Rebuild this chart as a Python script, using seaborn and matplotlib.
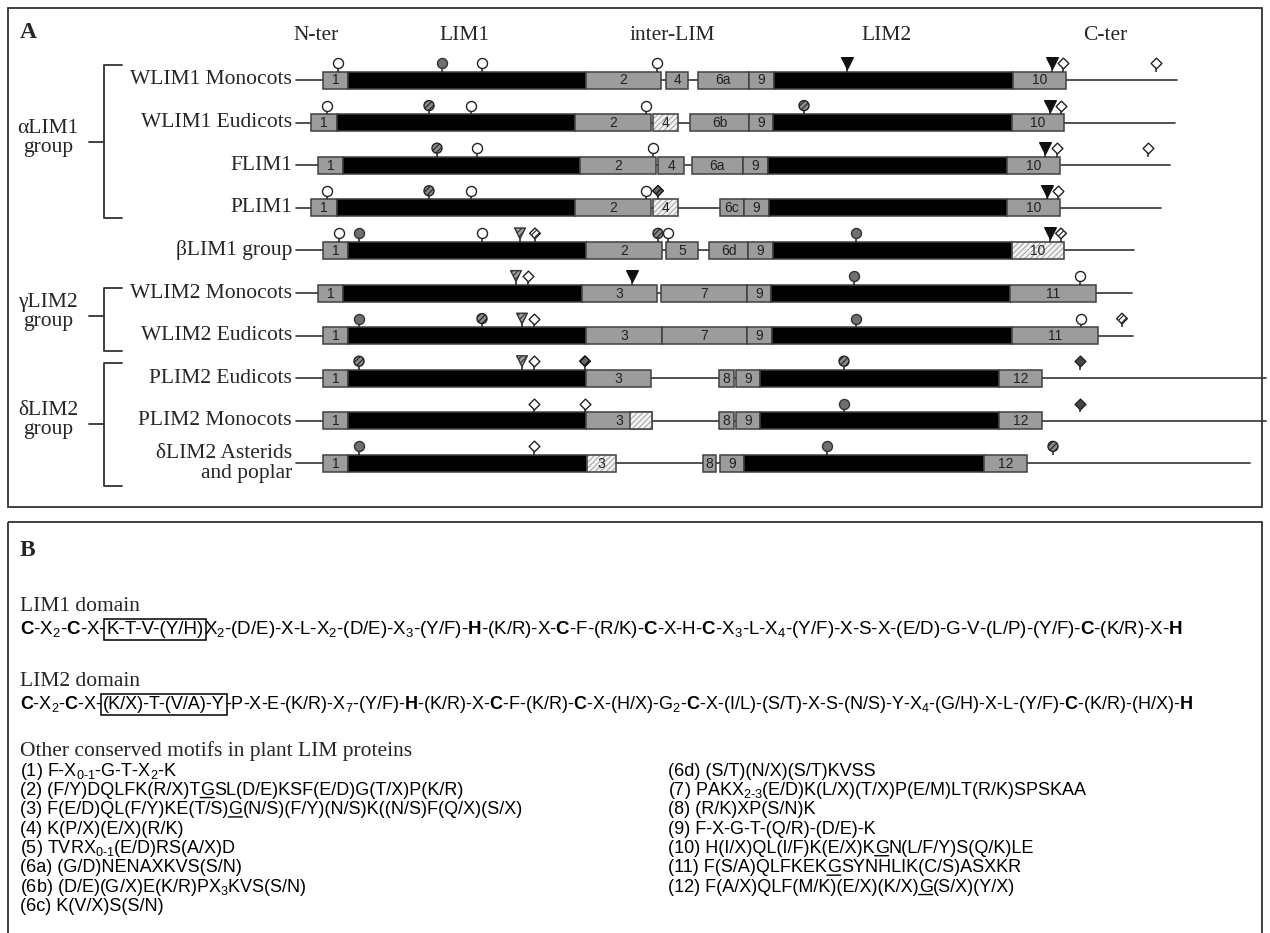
import matplotlib
matplotlib.use("Agg")
import matplotlib.pyplot as plt
from matplotlib.patches import Rectangle
import pandas as pd
import seaborn as sns

# ---------------- data : panel A ----------------
ROW_LABELS = ["WLIM1 Monocots", "WLIM1 Eudicots", "FLIM1", "PLIM1", "βLIM1 group",
              "WLIM2 Monocots", "WLIM2 Eudicots", "PLIM2 Eudicots", "PLIM2 Monocots",
              "δLIM2 Asterids\nand poplar"]
LINE_END = [1177, 1175, 1170, 1161, 1134, 1132, 1133, 1266, 1266, 1250]

# segments: (start, end, kind, motif) ; g = motif, k = LIM domain, h = partial motif
SEG_WLIM1_MONO = [(323, 348, "g", "1"), (348, 586, "k", ""), (586, 661, "g", "2"), (666, 688, "g", "4"),
                  (698, 749, "g", "6a"), (749, 774, "g", "9"), (774, 1013, "k", ""), (1013, 1066, "g", "10")]
SEG_WLIM1_EUD = [(311, 337, "g", "1"), (337, 575, "k", ""), (575, 651, "g", "2"), (653, 678, "h", "4"),
                 (690, 749, "g", "6b"), (749, 773, "g", "9"), (773, 1012, "k", ""), (1012, 1064, "g", "10")]
SEG_FLIM1 = [(318, 343, "g", "1"), (343, 580, "k", ""), (580, 656, "g", "2"), (658, 684, "g", "4"),
             (692, 743, "g", "6a"), (743, 768, "g", "9"), (768, 1007, "k", ""), (1007, 1060, "g", "10")]
SEG_PLIM1 = [(311, 337, "g", "1"), (337, 575, "k", ""), (575, 651, "g", "2"), (653, 678, "h", "4"),
             (720, 744, "g", "6c"), (744, 769, "g", "9"), (769, 1007, "k", ""), (1007, 1060, "g", "10")]
SEG_BLIM1 = [(323, 348, "g", "1"), (348, 586, "k", ""), (586, 662, "g", "2"), (666, 698, "g", "5"),
             (709, 748, "g", "6d"), (748, 773, "g", "9"), (773, 1012, "k", ""), (1012, 1064, "h", "10")]
SEG_WLIM2_MONO = [(318, 343, "g", "1"), (343, 582, "k", ""), (582, 657, "g", "3"), (661, 747, "g", "7"),
                  (747, 771, "g", "9"), (771, 1010, "k", ""), (1010, 1096, "g", "11")]
SEG_WLIM2_EUD = [(323, 348, "g", "1"), (348, 586, "k", ""), (586, 662, "g", "3"), (662, 747, "g", "7"),
                 (747, 772, "g", "9"), (772, 1012, "k", ""), (1012, 1098, "g", "11")]
SEG_PLIM2_EUD = [(323, 348, "g", "1"), (348, 586, "k", ""), (586, 651, "g", "3"), (719, 734, "g", "8"),
                 (736, 760, "g", "9"), (760, 999, "k", ""), (999, 1042, "g", "12")]
SEG_PLIM2_MONO = [(323, 348, "g", "1"), (348, 586, "k", ""), (586, 652, "g", "3"), (630, 652, "h", ""),
                  (719, 734, "g", "8"), (736, 760, "g", "9"), (760, 999, "k", ""), (999, 1042, "g", "12")]
SEG_DLIM2 = [(323, 348, "g", "1"), (348, 587, "k", ""), (587, 616, "h", "3"), (703, 716, "g", "8"),
             (720, 744, "g", "9"), (744, 984, "k", ""), (984, 1027, "g", "12")]
SEGMENTS = [SEG_WLIM1_MONO, SEG_WLIM1_EUD, SEG_FLIM1, SEG_PLIM1, SEG_BLIM1,
            SEG_WLIM2_MONO, SEG_WLIM2_EUD, SEG_PLIM2_EUD, SEG_PLIM2_MONO, SEG_DLIM2]

# site markers: (position, type)
MRK_WLIM1_MONO = [(338, "oc"), (442, "gc"), (482, "oc"), (657, "oc"), (847, "bt"), (1052, "bt"),
                  (1063, "od"), (1156, "od")]
MRK_WLIM1_EUD = [(327, "oc"), (429, "hc"), (471, "oc"), (646, "oc"), (804, "hc"), (1050, "bt"), (1061, "od")]
MRK_FLIM1 = [(437, "hc"), (477, "oc"), (653, "oc"), (1045, "bt"), (1057, "od"), (1148, "od")]
MRK_PLIM1 = [(327, "oc"), (429, "hc"), (471, "oc"), (646, "oc"), (658, "hdd"), (1047, "bt"), (1058, "od")]
MRK_BLIM1 = [(339, "oc"), (359, "gc"), (482, "oc"), (520, "ht"), (535, "hd"), (658, "hc"), (668, "oc"),
             (856, "gc"), (1050, "bt"), (1061, "hd")]
MRK_WLIM2_MONO = [(516, "ht"), (528, "od"), (632, "bt"), (854, "gc"), (1080, "oc")]
MRK_WLIM2_EUD = [(359, "gc"), (482, "hc"), (522, "ht"), (534, "od"), (856, "gc"), (1081, "oc"), (1122, "hd")]
MRK_PLIM2_EUD = [(359, "hc"), (522, "ht"), (534, "od"), (585, "hdd"), (844, "hc"), (1080, "dd")]
MRK_PLIM2_MONO = [(534, "od"), (585, "od"), (844, "gc"), (1080, "dd")]
MRK_DLIM2 = [(359, "gc"), (534, "od"), (827, "gc"), (1053, "hc")]
MARKERS = [MRK_WLIM1_MONO, MRK_WLIM1_EUD, MRK_FLIM1, MRK_PLIM1, MRK_BLIM1,
           MRK_WLIM2_MONO, MRK_WLIM2_EUD, MRK_PLIM2_EUD, MRK_PLIM2_MONO, MRK_DLIM2]

HEADERS = ["N-ter", "LIM1", "inter-LIM", "LIM2", "C-ter"]
HEADER_X = [316, 464, 672, 887, 1105]

GROUPS = ["αLIM1\ngroup", "γLIM2\ngroup", "δLIM2\ngroup"]
GROUP_SPAN = [(65, 218, 142), (288, 351, 316), (363, 486, 424)]   # top, bottom, tick

# ---------------- data : panel B ----------------
LIM1_SEQ = [(r"$\mathbf{C}$-X$_2$-$\mathbf{C}$-X-", None), ("K-T-V-(Y/H)", "box"),
            (r"X$_2$-(D/E)-X-L-X$_2$-(D/E)-X$_3$-(Y/F)-$\mathbf{H}$-(K/R)-X-$\mathbf{C}$-F-(R/K)-"
             r"$\mathbf{C}$-X-H-$\mathbf{C}$-X$_3$-L-X$_4$-(Y/F)-X-S-X-(E/D)-G-V-(L/P)-(Y/F)-"
             r"$\mathbf{C}$-(K/R)-X-$\mathbf{H}$", None)]
LIM2_SEQ = [(r"$\mathbf{C}$-X$_2$-$\mathbf{C}$-X-", None), ("(K/X)-T-(V/A)-Y", "box"),
            (r"-P-X-E-(K/R)-X$_7$-(Y/F)-$\mathbf{H}$-(K/R)-X-$\mathbf{C}$-F-(K/R)-$\mathbf{C}$-X-(H/X)-"
             r"G$_2$-$\mathbf{C}$-X-(I/L)-(S/T)-X-S-(N/S)-Y-X$_4$-(G/H)-X-L-(Y/F)-$\mathbf{C}$-(K/R)-"
             r"(H/X)-$\mathbf{H}$", None)]

MOTIFS_LEFT = [
    [(r"(1) F-X$_{0‐1}$-G-T-X$_2$-K", None)],
    [("(2) (F/Y)DQLFK(R/X)T", None), ("G", "ul"), ("SL(D/E)KSF(E/D)G(T/X)P(K/R)", None)],
    [("(3) F(E/D)QL(F/Y)KE(T/S)", None), ("G", "ul"), ("(N/S)(F/Y)(N/S)K((N/S)F(Q/X)(S/X)", None)],
    [("(4) K(P/X)(E/X)(R/K)", None)],
    [(r"(5) TVRX$_{0‐1}$(E/D)RS(A/X)D", None)],
    [("(6a) (G/D)NENAXKVS(S/N)", None)],
    [(r"(6b) (D/E)(G/X)E(K/R)PX$_3$KVS(S/N)", None)],
    [("(6c) K(V/X)S(S/N)", None)],
]
MOTIFS_RIGHT = [
    [("(6d) (S/T)(N/X)(S/T)KVSS", None)],
    [(r"(7) PAKX$_{2‐3}$(E/D)K(L/X)(T/X)P(E/M)LT(R/K)SPSKAA", None)],
    [("(8) (R/K)XP(S/N)K", None)],
    [("(9) F-X-G-T-(Q/R)-(D/E)-K", None)],
    [("(10) H(I/X)QL(I/F)K(E/X)K", None), ("G", "ul"), ("N(L/F/Y)S(Q/K)LE", None)],
    [("(11) F(S/A)QLFKEK", None), ("G", "ul"), ("SYNHLIK(C/S)ASXKR", None)],
    [("(12) F(A/X)QLF(M/K)(E/X)(K/X)", None), ("G", "ul"), ("(S/X)(Y/X)", None)],
]

# ---------------- style ----------------
sns.set_theme(style="white")
plt.rcParams["font.family"] = ["Liberation Serif", "DejaVu Serif"]
plt.rcParams["mathtext.fontset"] = "custom"
plt.rcParams["mathtext.rm"] = "Liberation Sans"
plt.rcParams["mathtext.bf"] = "Liberation Sans:bold"
plt.rcParams["mathtext.it"] = "Liberation Sans:italic"
plt.rcParams["hatch.linewidth"] = 0.8

SERIF = 15.5
SANS = 13
ROW_Y0, ROW_STEP = 80, 42.6
BAR_H = 17
LINE_START = 296
EDGE = "#404040"

MARKER_STYLE = {
    "oc": dict(marker="o", s=52, fc="white", ec="#222222", hatch=None),
    "gc": dict(marker="o", s=52, fc="#6f6f6f", ec="#333333", hatch=None),
    "hc": dict(marker="o", s=52, fc="#8a8a8a", ec="#222222", hatch="//////"),
    "bt": dict(marker="v", s=70, fc="#111111", ec="#111111", hatch=None),
    "ht": dict(marker="v", s=60, fc="#a0a0a0", ec="#333333", hatch="//////"),
    "od": dict(marker="D", s=30, fc="white", ec="#222222", hatch=None),
    "hd": dict(marker="D", s=30, fc="white", ec="#222222", hatch="//////"),
    "hdd": dict(marker="D", s=30, fc="#666666", ec="#111111", hatch="////"),
    "dd": dict(marker="D", s=30, fc="#444444", ec="#222222", hatch=None),
}

fig = plt.figure(figsize=(12.7, 9.33), dpi=100)
ax = fig.add_axes([0, 0, 1, 1])
ax.set_xlim(0, 1270)
ax.set_ylim(933, 0)
ax.axis("off")

# panel frames
ax.add_patch(Rectangle((8, 8), 1254, 499, fill=False, ec="#333333", lw=1.3, zorder=0))
ax.add_patch(Rectangle((8, 522), 1254, 440, fill=False, ec="#333333", lw=1.3, zorder=0))
ax.text(20, 33, "A", fontsize=17, fontweight="bold", va="center", ha="left")
ax.text(20, 550, "B", fontsize=17, fontweight="bold", va="center", ha="left")

# ---------------- panel A ----------------
for lab, x in zip(HEADERS, HEADER_X):
    ax.text(x, 36, lab, fontsize=SERIF, ha="center", va="center")

for lab, (top, bot, tick) in zip(GROUPS, GROUP_SPAN):
    ax.plot([122, 104, 104, 122], [top, top, bot, bot], color="#333333", lw=1.3)
    ax.plot([89, 104], [tick, tick], color="#333333", lw=1.3)
    ax.text(48, tick - 4, lab, fontsize=SERIF, ha="center", va="center", linespacing=1.05)

rows = []
for i, (segs, mrks) in enumerate(zip(SEGMENTS, MARKERS)):
    y = ROW_Y0 + i * ROW_STEP
    ax.text(292, y, ROW_LABELS[i], fontsize=SERIF, ha="right", va="center",
            multialignment="right", linespacing=1.1)
    ax.plot([LINE_START, LINE_END[i]], [y, y], color="#333333", lw=1.2, zorder=1)
    for x0, x1, kind, motif in segs:
        if kind == "h":
            ax.barh(y, x1 - x0, left=x0, height=BAR_H, color="#f4f4f4", edgecolor="#a8a8a8",
                    hatch="//////", lw=0.3, zorder=2)
            ax.barh(y, x1 - x0, left=x0, height=BAR_H, color="none", edgecolor=EDGE, lw=1.1, zorder=3)
        else:
            fc = "black" if kind == "k" else "#9c9c9c"
            ax.barh(y, x1 - x0, left=x0, height=BAR_H, color=fc, edgecolor=EDGE, lw=1.1, zorder=2)
        if motif:
            ax.text((x0 + x1) / 2, y + 0.5, motif, fontsize=10, family="Liberation Sans",
                    color="#222222", ha="center", va="center", zorder=4)
    for x, kind in mrks:
        rows.append({"row": i, "x": x, "kind": kind, "y": y - BAR_H / 2 - 8.5, "base": y - BAR_H / 2})

sites = pd.DataFrame(rows)
ax.vlines(sites["x"], sites["base"], sites["y"], color="#222222", lw=1.1, zorder=4)
for kind, st in MARKER_STYLE.items():
    sub = sites[sites["kind"] == kind]
    if sub.empty:
        continue
    sns.scatterplot(data=sub, x="x", y="y", marker=st["marker"], s=st["s"], color=st["fc"],
                    edgecolor=st["ec"], linewidth=1.0, legend=False, ax=ax, zorder=5)
    if st["hatch"]:
        ax.collections[-1].set_hatch(st["hatch"])


# ---------------- panel B ----------------
def seq_line(x, y, parts, size=SANS):
    prev = None
    for s, style in parts:
        kw = dict(fontsize=size, family="Liberation Sans", ha="left", va="baseline", color="black")
        if style == "box":
            kw["bbox"] = dict(boxstyle="square,pad=0.12", fc="none", ec="black", lw=1.1)
        if prev is None:
            t = ax.text(x, y, s, **kw)
        else:
            t = ax.annotate(s, xy=(1, y), xycoords=(prev, "data"), **kw)
        if style == "ul":
            ax.annotate("", xy=(0, 0.08), xycoords=t, xytext=(1, 0.08), textcoords=t,
                        arrowprops=dict(arrowstyle="-", lw=1.0, color="black", shrinkA=0, shrinkB=0))
        prev = t


ax.text(20, 611, "LIM1 domain", fontsize=SERIF, ha="left", va="baseline")
seq_line(20, 634, LIM1_SEQ, size=13.5)
ax.text(20, 686, "LIM2 domain", fontsize=SERIF, ha="left", va="baseline")
seq_line(20, 709, LIM2_SEQ)
ax.text(20, 756, "Other conserved motifs in plant LIM proteins", fontsize=SERIF, ha="left", va="baseline")

for j, parts in enumerate(MOTIFS_LEFT):
    seq_line(20, 775.5 + j * 19.4, parts)
for j, parts in enumerate(MOTIFS_RIGHT):
    seq_line(668, 775.5 + j * 19.4, parts)

fig.savefig("out.png", dpi=100)
